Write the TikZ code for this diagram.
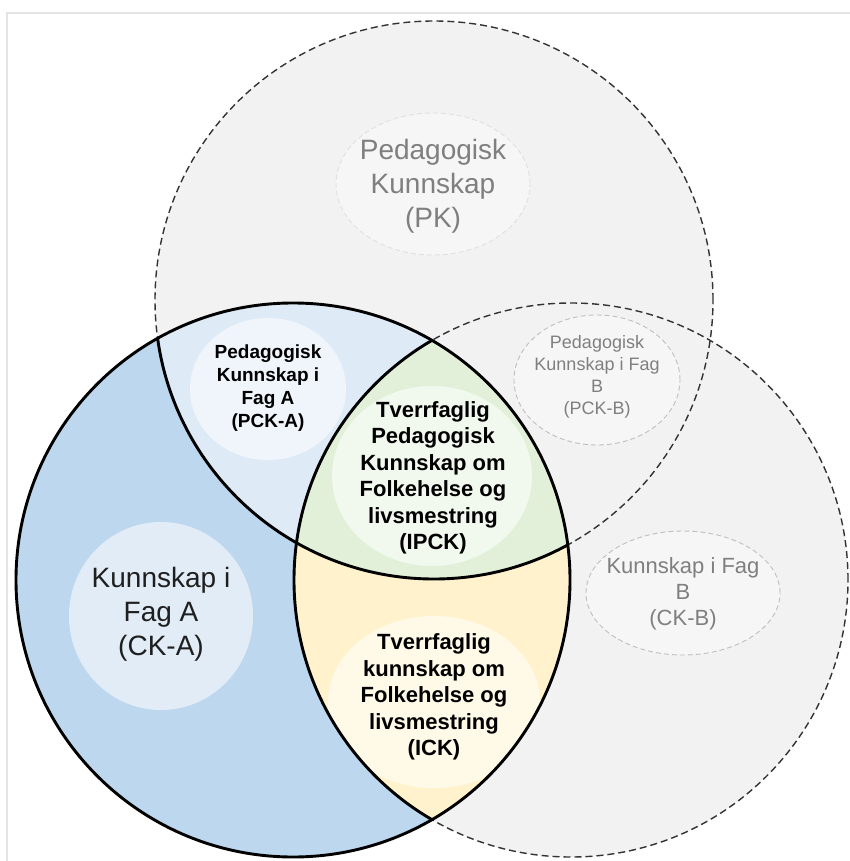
\documentclass[tikz,border=0pt]{standalone}
\usepackage{fontspec}
\setmainfont{Liberation Sans}
\usetikzlibrary{shapes.geometric}

\definecolor{framegray}{HTML}{E4E4E4}
\definecolor{fagA}{HTML}{BDD7EE}
\definecolor{pedA}{HTML}{DEEBF7}
\definecolor{ipck}{HTML}{E2F0D9}
\definecolor{ick}{HTML}{FFF2CC}
\definecolor{outergray}{HTML}{F2F2F2}
\definecolor{dashink}{HTML}{333333}
\definecolor{ghostink}{HTML}{7F7F7F}

\begin{document}
\begin{tikzpicture}[x=1pt,y=-1pt,
  solidring/.style={draw=black,line width=2.9pt},
  dashring/.style={draw=dashink,line width=1.4pt,dash pattern=on 7pt off 4pt},
  glow/.style={fill=white,fill opacity=0.55,draw=none},
  ghostring/.style={fill=white,fill opacity=0.35,draw=black!25,draw opacity=1,line width=0.9pt,dash pattern=on 5pt off 3pt},
  ghosttxt/.style={text=ghostink,align=center,inner sep=0pt},
  boldtxt/.style={text=black,align=center,inner sep=0pt},
  plaintxt/.style={text=black!88,align=center,inner sep=0pt}
]
\useasboundingbox (0,0) rectangle (850,861);
\fill[white] (0,0) rectangle (850,861);

% outer frame
\draw[framegray,line width=2.2pt] (7,861) -- (7,13) -- (850,13);

% circle centres
\coordinate (cA) at (293,580);
\coordinate (cB) at (571,580);
\coordinate (cP) at (434,300);

% grey sets
\fill[outergray] (cP) circle[radius=279pt];
\fill[outergray] (cB) circle[radius=277pt];

% coloured regions inside set A
\fill[fagA] (cA) circle[radius=277pt];
\begin{scope}
  \clip (cA) circle[radius=277pt];
  \fill[pedA] (cP) circle[radius=279pt];
  \clip (cB) circle[radius=277pt];
  \fill[ick] (cB) circle[radius=277pt];
  \fill[ipck] (cP) circle[radius=279pt];
  % soft background of the ICK label, kept inside its lens
  \fill[glow] (434,702) ellipse[x radius=106pt,y radius=86pt];
\end{scope}

% soft label backgrounds
\fill[glow] (161,616) ellipse[x radius=92pt,y radius=94pt];
\fill[glow] (268,389) ellipse[x radius=78pt,y radius=71pt];
\fill[glow] (432,476) ellipse[x radius=100pt,y radius=90pt];
\path[ghostring,draw=black!12] (433,184) ellipse[x radius=97pt,y radius=71pt];
\path[ghostring] (597,380) ellipse[x radius=83pt,y radius=65pt];
\path[ghostring] (683,593) ellipse[x radius=97pt,y radius=62pt];

% dashed outlines of PK and fag B
\draw[dashring] (cP) circle[radius=279pt];
\draw[dashring] (cB) circle[radius=277pt];

% solid borders inside set A
\begin{scope}
  \clip (cA) circle[radius=277pt];
  \draw[solidring] (cP) circle[radius=279pt];
  \draw[solidring] (cB) circle[radius=277pt];
\end{scope}
\draw[solidring] (cA) circle[radius=277pt];

% labels
\node[ghosttxt,font=\fontsize{28}{34}\selectfont] (pk) at (433,186)
  {Pedagogisk\\Kunnskap\\(PK)};
\node[ghosttxt,font=\fontsize{18}{22}\selectfont] (pckb) at (597,377)
  {Pedagogisk\\Kunnskap i Fag\\B\\(PCK-B)};
\node[ghosttxt,font=\fontsize{22}{26}\selectfont] (ckb) at (683,594)
  {Kunnskap i Fag\\B\\(CK-B)};
\node[plaintxt,font=\fontsize{28}{34}\selectfont] (cka) at (161,614)
  {Kunnskap i\\Fag A\\(CK-A)};
\node[boldtxt,font=\fontsize{19}{23}\selectfont\bfseries] (pcka) at (268,388)
  {Pedagogisk\\Kunnskap i\\Fag A\\(PCK-A)};
\node[boldtxt,font=\fontsize{22}{26.5}\selectfont\bfseries] (ipcklbl) at (433,478)
  {Tverrfaglig\\Pedagogisk\\Kunnskap om\\Folkehelse og\\livsmestring\\(IPCK)};
\node[boldtxt,font=\fontsize{22}{26.5}\selectfont\bfseries] (icklbl) at (434,697)
  {Tverrfaglig\\kunnskap om\\Folkehelse og\\livsmestring\\(ICK)};
\end{tikzpicture}
\end{document}
